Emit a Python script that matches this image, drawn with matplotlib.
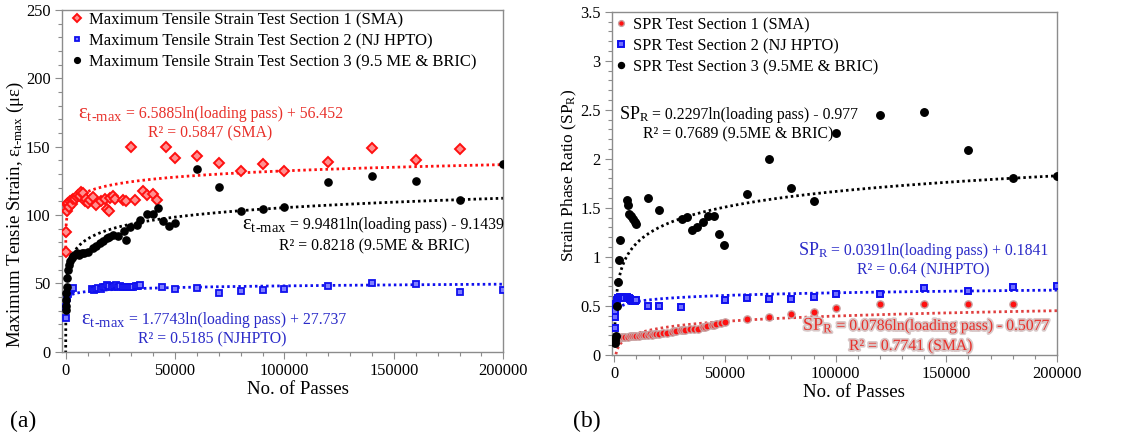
import numpy as np
import matplotlib
matplotlib.use("Agg")
import matplotlib.pyplot as plt
import matplotlib.patheffects as pe
from matplotlib.ticker import MultipleLocator, FuncFormatter

plt.rcParams['font.family'] = ['Liberation Serif', 'DejaVu Serif']
plt.rcParams['mathtext.fontset'] = 'custom'
plt.rcParams['mathtext.rm'] = 'Liberation Serif'
plt.rcParams['mathtext.it'] = 'Liberation Serif:italic'

# ---------------- Panel (a): maximum tensile strain ----------------
sma_x = [10, 100, 600, 800, 1200, 1500, 2000, 2700, 3000, 3500, 4300, 5000, 5800, 6500, 7000,
         8000, 8700, 9500, 10000, 11000, 12600, 14000, 16300, 17800, 19000, 19700, 20200,
         21700, 22500, 26300, 27800, 31600, 35400, 37000, 40000, 41800,
         30000, 46000, 50000, 60000, 70000, 80000, 90000, 100000, 120000, 140000, 160000, 180000]
sma_y = [73, 87.5, 103, 108, 109, 106, 110, 111, 108, 112, 112, 113, 115, 114, 117,
         116, 110, 112, 109, 111, 113.5, 107.5, 110.4, 111.6, 104.3, 102.6, 112.8,
         113.7, 111.6, 111, 110, 111, 117.7, 114.3, 115.5, 111,
         150, 150, 142, 143, 138, 132, 137, 132, 139, 149, 140, 148]

hpto_x = [1, 300, 600, 1000, 1500, 2500, 3500,
          12000, 13000, 14000, 15000, 16000, 17000, 18000, 19000, 20000, 21000, 22000, 23000,
          24000, 25000, 26000, 27000, 28000, 29000, 30000, 31000, 32000, 33000, 34000,
          44000, 50000, 60000, 70000, 80000, 90000, 100000, 120000, 140000, 160000, 180000, 200000]
hpto_y = [25, 33, 39, 42, 45, 46, 46.5,
          46, 45.5, 46, 46.5, 46, 47, 47.5, 48.5, 48, 47.5, 48, 48.5,
          47.5, 48, 47.5, 47, 47.5, 47.5, 47, 47.5, 48, 48, 48.5,
          47.3, 46, 46.8, 43.1, 44.4, 45.1, 45.8, 48.2, 50.4, 49.7, 43.4, 44.8]

me_x = [1, 50, 140, 300, 450, 730, 1200, 1650, 2200, 2700, 3500, 5000, 6000, 7300, 8500,
        10300, 12600, 14000, 15700, 17000, 18700, 20000, 21700, 24000, 26600, 27800, 29400,
        32400, 34000, 37000, 40000, 42000, 44600, 47300, 50000,
        60000, 70000, 80000, 90000, 100000, 120000, 140000, 160000, 180000, 200000]
me_y = [30.7, 33.6, 38, 42.9, 47.7, 53.9, 60, 63.6, 66, 68.5, 70, 72, 71, 72.1, 72.5,
        73.3, 75.8, 77.5, 79.5, 81, 83.1, 84, 85.5, 84.8, 88, 81.4, 91.6,
        92.8, 96.5, 100.9, 101, 105, 95.3, 92, 94,
        133.6, 120.4, 103, 104.5, 105.8, 124, 128.7, 125, 111, 137.4]

# ---------------- Panel (b): strain phase ratio ----------------
spr1_x = [700, 1000, 2000, 3000, 4000, 5000, 6000, 7000, 8000, 9000, 10000, 11000, 12000,
          13000, 14000, 15000, 16000, 17000, 18000, 19000, 20000, 22000, 24000, 26000,
          27000, 28000, 30000, 31000, 32000, 34000, 36000, 38000, 40000, 41000, 42000,
          44000, 45000, 46000, 48000, 50000,
          60000, 70000, 80000, 90000, 100000, 120000, 140000, 160000, 180000]
spr1_y = [0.15, 0.17, 0.175, 0.18, 0.18, 0.185, 0.185, 0.19, 0.19, 0.195, 0.19, 0.195, 0.2,
          0.2, 0.205, 0.2, 0.21, 0.205, 0.21, 0.215, 0.21, 0.22, 0.225, 0.235,
          0.24, 0.245, 0.25, 0.25, 0.255, 0.26, 0.27, 0.27, 0.29, 0.285, 0.3,
          0.305, 0.31, 0.32, 0.325, 0.335,
          0.363, 0.383, 0.417, 0.44, 0.475, 0.515, 0.515, 0.515, 0.525]

spr2_x = [100, 200, 400, 600, 1000, 1500, 2500, 3500, 4500, 5500, 6500, 7000, 7500, 8000,
          8500, 9000, 9500, 10000, 15000, 20000, 30000,
          50000, 60000, 70000, 80000, 90000, 100000, 120000, 140000, 160000, 180000, 200000]
spr2_y = [0.28, 0.39, 0.45, 0.52, 0.56, 0.58, 0.59, 0.59, 0.585, 0.59, 0.58, 0.57, 0.56, 0.565,
          0.555, 0.56, 0.555, 0.56, 0.50, 0.50, 0.485,
          0.56, 0.586, 0.576, 0.576, 0.59, 0.627, 0.627, 0.678, 0.65, 0.694, 0.705]

spr3_x = [100, 300, 700, 1350, 1800, 2300, 2600, 5600, 6300, 6800, 7400, 8300, 9300, 9800,
          15000, 20000, 30400, 32700, 34900, 37200, 39900, 42400, 45000, 47400, 49500,
          60000, 70000, 80000, 90000, 100000, 120000, 140000, 160000, 180000, 200000]
spr3_y = [0.12, 0.15, 0.19, 0.50, 0.745, 0.965, 1.17, 1.585, 1.53, 1.44, 1.42, 1.39, 1.355, 1.34,
          1.60, 1.48, 1.39, 1.405, 1.27, 1.30, 1.355, 1.42, 1.42, 1.23, 1.12,
          1.64, 2.0, 1.70, 1.57, 2.26, 2.45, 2.48, 2.09, 1.80, 1.82]

# log-fit coefficients printed on the chart
fit_a = {'sma': (6.5885, 56.452), 'hpto': (1.7743, 27.737), 'me': (9.9481, -9.1439)}
fit_b = {'sma': (0.0786, -0.5077), 'hpto': (0.0391, 0.1841), 'me': (0.2297, -0.977)}

RED = '#ff1010'
BLUE = '#1010ee'
RED_T = '#e8302a'
BLUE_T = '#2a2ac8'
SPINE = '#8c8c8c'

W, H = 1124, 443
fig = plt.figure(figsize=(W / 100, H / 100), dpi=100)
axA = fig.add_axes([61.7 / W, 1 - 351.7 / H, 441.6 / W, 341.7 / H])
axB = fig.add_axes([611.7 / W, 1 - 355 / H, 445.3 / W, 343.3 / H])


def trend(ax, xs, coef, color):
    xx = np.linspace(min(xs), 200000, 4000)
    ax.plot(xx, coef[0] * np.log(xx) + coef[1], color=color, lw=2.0,
            linestyle=(0, (0.9, 1.1)), zorder=2)


def style(ax, ymax, ymaj, ymin, xlo, xlab_x):
    ax.set_xlim(xlo, 200000)
    ax.set_ylim(0, ymax)
    ax.xaxis.set_major_locator(MultipleLocator(50000))
    ax.xaxis.set_minor_locator(MultipleLocator(10000))
    ax.yaxis.set_major_locator(MultipleLocator(ymaj))
    ax.yaxis.set_minor_locator(MultipleLocator(ymin))
    ax.yaxis.set_major_formatter(FuncFormatter(lambda v, p: f'{v:g}'))
    ax.tick_params(which='major', direction='out', length=5, width=0.8, color=SPINE,
                   labelsize=11.8, pad=3)
    ax.tick_params(which='minor', direction='out', length=3, width=0.8, color=SPINE)
    for s in ax.spines.values():
        s.set_color(SPINE)
        s.set_linewidth(1.0)
    ax.set_xlabel('No. of Passes', fontsize=13.5)
    ax.xaxis.set_label_coords(xlab_x, -0.085)


# ---- panel (a)
axA.plot(hpto_x, hpto_y, 's', ms=4.2, mfc='#8080ff', mec=BLUE, mew=1.3, ls='none', zorder=3,
         label='Maximum Tensile Strain Test Section 2 (NJ HPTO)')
axA.plot(sma_x, sma_y, 'D', ms=4.6, mfc='#ff9090', mec=RED, mew=1.4, ls='none', zorder=3,
         label='Maximum Tensile Strain Test Section 1 (SMA)')
axA.plot(me_x, me_y, 'o', ms=5.2, color='black', ls='none', zorder=3,
         label='Maximum Tensile Strain Test Section 3 (9.5 ME & BRIC)')
trend(axA, sma_x, fit_a['sma'], RED)
trend(axA, hpto_x, fit_a['hpto'], BLUE)
trend(axA, me_x, fit_a['me'], 'black')
style(axA, 250, 50, 10, -1800, 0.535)
h, l = axA.get_legend_handles_labels()
axA.legend([h[1], h[0], h[2]], [l[1], l[0], l[2]], loc='upper left', bbox_to_anchor=(0.0, 1.025),
           frameon=False, fontsize=12, handlelength=0.6, handletextpad=0.45, labelspacing=0.3,
           markerscale=0.8, borderaxespad=0.2)

# ---- panel (b)
axB.plot(spr1_x, spr1_y, 'o', ms=5.2, mfc=RED, mec='#c8a0a0', mew=1.0, ls='none', zorder=3,
         label='SPR Test Section 1 (SMA)')
axB.plot(spr2_x, spr2_y, 's', ms=4.6, mfc='#7070ff', mec=BLUE, mew=1.4, ls='none', zorder=3,
         label='SPR Test Section 2 (NJ HPTO)')
axB.plot(spr3_x, spr3_y, 'o', ms=5.4, color='black', ls='none', zorder=3,
         label='SPR Test Section 3 (9.5ME & BRIC)')
trend(axB, spr1_x, fit_b['sma'], '#e04040')
trend(axB, spr2_x, fit_b['hpto'], BLUE)
trend(axB, spr3_x, fit_b['me'], 'black')
style(axB, 3.5, 0.5, 0.1, -1200, 0.543)
axB.legend(loc='upper left', bbox_to_anchor=(-0.012, 1.013), frameon=False, fontsize=11.8,
           handlelength=0.6, handletextpad=0.45, labelspacing=0.3, markerscale=0.8,
           borderaxespad=0.2)

renderer = fig.canvas.get_renderer()


def btext(x, y, s, **kw):
    return fig.text(x / W, 1 - y / H, s, va='baseline', **kw)


def eqline(hx, by, head, hsize, eq, c, peff=None):
    t = btext(hx, by, head, color=c, fontsize=hsize, path_effects=peff)
    bb = t.get_window_extent(renderer)
    ex = bb.x1 + 3
    btext(ex, by, eq, color=c, fontsize=11.3, path_effects=peff)


EPS = r'$\mathregular{\varepsilon_{t\text{-}max}}$'
SPR = r'$\mathregular{SP_R}$'
halo = [pe.withStroke(linewidth=2.5, foreground='#d8c8c8')]

# annotations panel (a): (head x, baseline, text, R2 x, R2 baseline, R2 text, colour)
ann_a = [
    (78, 118, '= 6.5885ln(loading pass) + 56.452', 148, 137, 'R² = 0.5847 (SMA)', RED_T),
    (242, 229, '= 9.9481ln(loading pass) - 9.1439', 279, 250, 'R² = 0.8218 (9.5ME & BRIC)', 'black'),
    (81, 324, '= 1.7743ln(loading pass) + 27.737', 138, 343, 'R² = 0.5185 (NJHPTO)', BLUE_T),
]
for hx, by, eq, rx, ry, r2, c in ann_a:
    eqline(hx, by, EPS, 15, eq, c)
    btext(rx, ry, r2, color=c, fontsize=11.3)

ann_b = [
    (619, 119, '= 0.2297ln(loading pass) - 0.977', 643, 138, 'R² = 0.7689 (9.5ME & BRIC)', 'black', None),
    (798, 255, '= 0.0391ln(loading pass) + 0.1841', 857, 274, 'R² = 0.64 (NJHPTO)', BLUE_T, None),
    (803, 330, '= 0.0786ln(loading pass) - 0.5077', 849, 350, 'R² = 0.7741 (SMA)', RED_T, halo),
]
for hx, by, eq, rx, ry, r2, c, peff in ann_b:
    eqline(hx, by, SPR, 13, eq, c, peff)
    btext(rx, ry, r2, color=c, fontsize=11.3, path_effects=peff)

# axis titles
fig.text(15 / W, 1 - 215 / H, r'Maximum Tensie Strain, $\mathregular{\varepsilon_{t\text{-}max}}$ (με)',
         rotation=90, va='center', ha='center', fontsize=13.5)
fig.text(569 / W, 1 - 175 / H, r'Strain Phase Ratio ($\mathregular{SP_R}$)',
         rotation=90, va='center', ha='center', fontsize=12.5)

fig.text(10 / W, 1 - 421 / H, '(a)', fontsize=17, va='center')
fig.text(573 / W, 1 - 421 / H, '(b)', fontsize=17, va='center')

fig.savefig('out.png', dpi=100)
